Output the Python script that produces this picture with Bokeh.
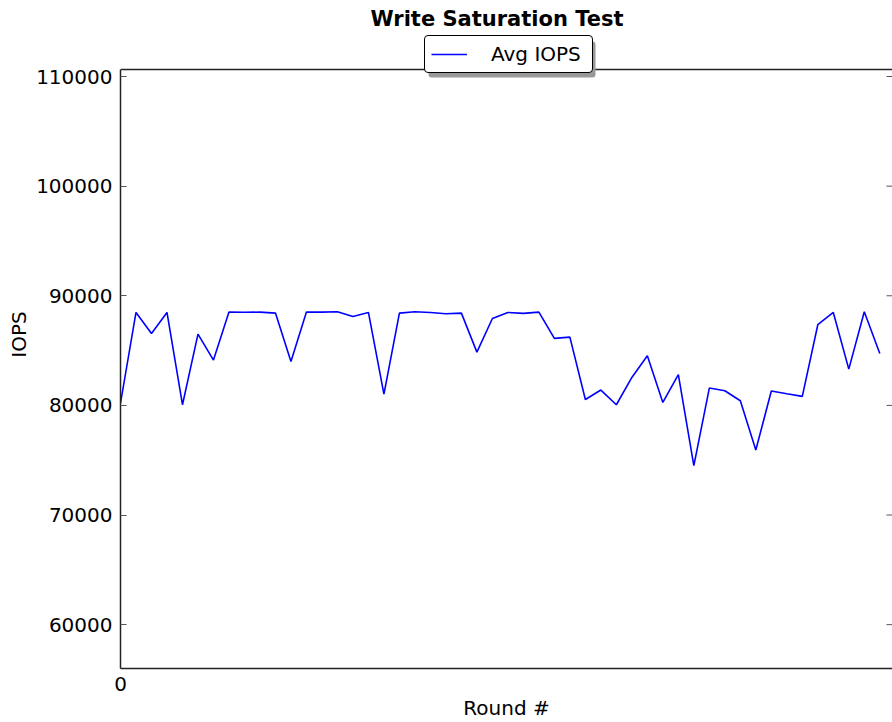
import math
from bokeh.plotting import figure
from bokeh.models import (Range1d, FixedTicker, Legend, LegendItem, Label,
                          BoxAnnotation, BasicTickFormatter, ColumnDataSource, Span)
from bokeh.embed import file_html
from bokeh.resources import INLINE

rounds = list(range(50))
avg_iops = [80200, 88480, 86560, 88480, 80060, 86500, 84130, 88510, 88490, 88510,
            88420, 84010, 88510, 88510, 88540, 88110, 88480, 81030, 88420, 88540,
            88480, 88360, 88420, 84860, 87930, 88480, 88390, 88510, 86110, 86230,
            80540, 81400, 80060, 82550, 84530, 80270, 82800, 74500, 81580, 81340,
            80420, 75930, 81310, 81060, 80820, 87360, 88480, 83310, 88540, 84740]
y_ticks = [60000, 70000, 80000, 90000, 100000, 110000]
x_ticks = [0]
y_axis_top = 110640
y_axis_bottom = 56000
x_end = 49.82
title_text = "Write Saturation Test"

FONT = "DejaVu Sans"

p = figure(width=892, height=722, output_backend="svg", toolbar_location=None,
           x_range=Range1d(0, x_end), y_range=Range1d(y_axis_bottom, 116934),
           min_border_left=120, min_border_top=0, min_border_bottom=40,
           min_border_right=0)
p.outline_line_color = None
p.xgrid.visible = False
p.ygrid.visible = False
p.background_fill_color = "white"
p.border_fill_color = "white"

src = ColumnDataSource(dict(x=rounds, y=avg_iops))
r = p.line("x", "y", source=src, line_color="#0000ff", line_width=1.6)

# left axis
ya = p.yaxis[0]
ya.ticker = FixedTicker(ticks=y_ticks)
ya.bounds = (y_axis_bottom, y_axis_top)
ya.formatter = BasicTickFormatter(use_scientific=False)
ya.major_tick_in = 6
ya.major_tick_out = 0
ya.major_tick_line_color = "#555555"
ya.minor_tick_line_color = None
ya.axis_line_width = 1.5
ya.axis_line_color = "#222222"
ya.major_label_standoff = 8
ya.major_label_text_font = FONT
ya.major_label_text_font_size = "20px"
ya.major_label_text_color = "black"
ya.axis_label = "IOPS"
ya.axis_label_text_font = FONT
ya.axis_label_text_font_size = "20px"
ya.axis_label_text_font_style = "normal"
ya.axis_label_text_color = "black"
ya.axis_label_standoff = 2

# bottom axis
xa = p.xaxis[0]
xa.ticker = FixedTicker(ticks=x_ticks)
xa.major_tick_in = 0
xa.major_tick_out = 0
xa.minor_tick_line_color = None
xa.axis_line_width = 1.5
xa.axis_line_color = "#222222"
xa.major_label_standoff = 8
xa.major_label_text_font = FONT
xa.major_label_text_font_size = "20px"
xa.major_label_text_color = "black"
xa.axis_label = "Round #"
xa.axis_label_text_font = FONT
xa.axis_label_text_font_size = "20px"
xa.axis_label_text_font_style = "normal"
xa.axis_label_text_color = "black"
xa.axis_label_standoff = 2

# right-side inward ticks (same tick values as the left axis)
p.ray(x=[x_end] * len(y_ticks), y=y_ticks, length=6, length_units="screen",
      angle=math.pi, line_color="#555555", line_width=1)

# top spine
p.add_layout(Span(location=y_axis_top, dimension="width", line_color="#222222",
                  line_width=1.5))

# title
p.add_layout(Label(x=250, y=650, x_units="screen", y_units="screen", text=title_text,
                   text_font=FONT, text_font_size="21px", text_font_style="bold",
                   text_color="black", text_baseline="middle", text_align="left"))

shadow = BoxAnnotation(left=308, right=475, bottom=591, top=627,
                       left_units="screen", right_units="screen",
                       top_units="screen", bottom_units="screen",
                       fill_color="#999999", fill_alpha=1.0, line_color=None,
                       border_radius=3)
p.add_layout(shadow)

legend = Legend(items=[LegendItem(label="Avg IOPS", renderers=[r])],
                location=(304, 595), border_line_color="black", border_line_width=1.5,
                border_line_alpha=1.0, background_fill_color="white", background_fill_alpha=1.0,
                label_text_font=FONT, label_text_font_size="20px", label_text_color="black",
                glyph_width=36, glyph_height=20, label_height=20, label_width=95,
                label_standoff=24, padding=6, spacing=0, border_radius=4, margin=0)
p.add_layout(legend, "center")

open("out.html", "w").write(file_html(p, INLINE))
